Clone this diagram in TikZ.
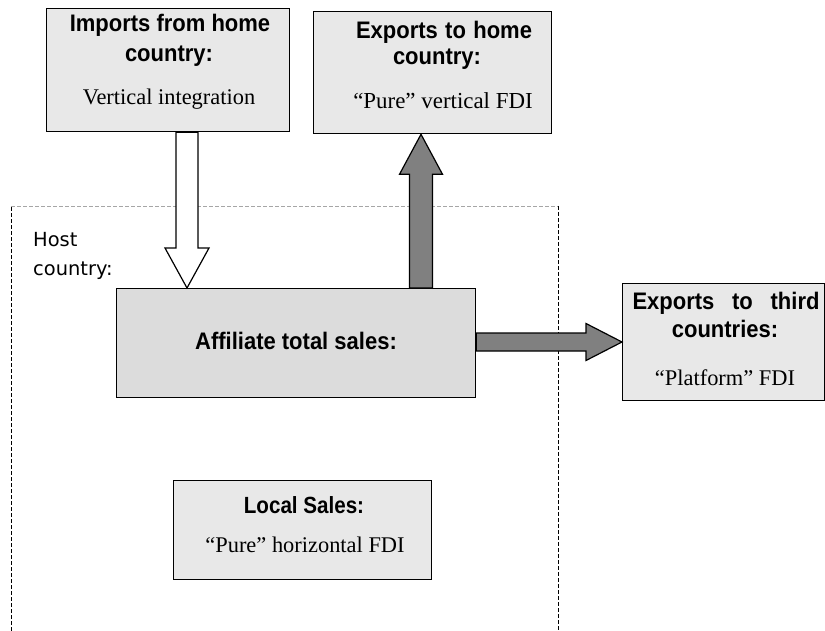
\documentclass[tikz,border=0pt]{standalone}
\usepackage{fontspec}
\setmainfont{Liberation Serif}
\newfontfamily\headfont[FakeStretch=0.92]{Liberation Sans}
\newfontfamily\hostfont{DejaVu Sans}
\usetikzlibrary{calc}
\definecolor{boxgray}{HTML}{E8E8E8}
\definecolor{affgray}{HTML}{DCDCDC}
\definecolor{flowgray}{HTML}{808080}
\begin{document}
\begin{tikzpicture}[x=1bp,y=-1bp,
  box/.style={draw=black, line width=1.3bp, fill=boxgray, anchor=north west, inner sep=0pt},
  headtxt/.style={anchor=base, inner sep=0pt, font=\headfont\bfseries\fontsize{24}{26}\selectfont},
  bodytxt/.style={anchor=base, inner sep=0pt, font=\fontsize{22.5}{25}\selectfont},
  hosttxt/.style={anchor=base west, inner sep=0pt, font=\hostfont\fontsize{19.5}{22}\selectfont},
  flow/.style={draw=black, line width=1.2bp, line join=miter, fill=flowgray},
  hollowflow/.style={draw=black, line width=1.2bp, line join=miter, fill=white},
  hostside/.style={draw=black, line width=0.6bp, dash pattern=on 4bp off 2bp},
  hosttop/.style={draw=black!35, line width=0.6bp, dash pattern=on 4bp off 2bp}]
\useasboundingbox (0,0) rectangle (825,631);

% host country frame (open at the bottom)
\draw[hostside] (11,631) -- (11,206);
\draw[hosttop] (11,206) -- (558,206);
\draw[hostside] (558,206) -- (558,631);
\node[hosttxt] (hostA) at (33,247) {Host};
\node[hosttxt] (hostB) at (33,275) {country:};

% boxes
\node[box, minimum width=243bp, minimum height=123bp] (imp) at (46,8) {};
\node[box, minimum width=238bp, minimum height=122bp] (exh) at (313,11) {};
\node[box, fill=affgray, minimum width=359bp, minimum height=109bp] (aff) at (116,288) {};
\node[box, minimum width=202bp, minimum height=117bp] (ex3) at (622,283) {};
\node[box, minimum width=258bp, minimum height=99bp] (loc) at (173,480) {};

% box texts
\node[headtxt] (impA) at (170,32) {Imports from home};
\node[headtxt] (impB) at (169,62) {country:};
\node[bodytxt] (impC) at (169,105) {Vertical integration};

\node[headtxt] (exhA) at (444,39) {\makebox[176bp][s]{Exports to home}};
\node[headtxt] (exhB) at (437,65) {country:};
\node[bodytxt, font=\fontsize{23}{25}\selectfont] (exhC) at (443,109) {“Pure” vertical FDI};

\node[headtxt] (affA) at (296,349) {Affiliate total sales:};

\node[headtxt] (ex3A) at (726,309) {\makebox[187bp][s]{Exports to third}};
\node[headtxt] (ex3B) at (725,337) {countries:};
\node[bodytxt] (ex3C) at (725,385) {“Platform” FDI};

\node[headtxt, font=\headfont\bfseries\fontsize{23.5}{26}\selectfont\addfontfeature{FakeStretch=0.88}] (locA) at (304,513) {Local Sales:};
\node[bodytxt] (locB) at (305,552) {“Pure” horizontal FDI};

% imports: hollow arrow from home country box down to the affiliate
\coordinate (impFoot) at ($(imp.south west)+(141,0)$);
\coordinate (impTip) at (impFoot |- aff.north);
\draw[hollowflow] ($(impFoot)+(-11,0)$) -- ($(impFoot)+(11,0)$) -- ($(impTip)+(11,-40)$)
  -- ($(impTip)+(22,-40)$) -- (impTip) -- ($(impTip)+(-22,-40)$) -- ($(impTip)+(-11,-40)$) -- cycle;

% exports to home country: arrow up from the affiliate
\coordinate (exhFoot) at ($(aff.north west)+(305,0)$);
\coordinate (exhTip) at (exhFoot |- exh.south);
\draw[flow] ($(exhFoot)+(-11.5,0)$) -- ($(exhTip)+(-11.5,40)$) -- ($(exhTip)+(-21.5,40)$)
  -- (exhTip) -- ($(exhTip)+(21.5,40)$) -- ($(exhTip)+(11.5,40)$) -- ($(exhFoot)+(11.5,0)$) -- cycle;

% exports to third countries: arrow right from the affiliate
\coordinate (ex3Foot) at ($(aff.north east)+(0,54)$);
\coordinate (ex3Tip) at (ex3Foot -| ex3.west);
\draw[flow] ($(ex3Foot)+(0,-9)$) -- ($(ex3Tip)+(-36,-9)$) -- ($(ex3Tip)+(-36,-18.5)$)
  -- (ex3Tip) -- ($(ex3Tip)+(-36,18.5)$) -- ($(ex3Tip)+(-36,9)$) -- ($(ex3Foot)+(0,9)$) -- cycle;
\end{tikzpicture}
\end{document}
